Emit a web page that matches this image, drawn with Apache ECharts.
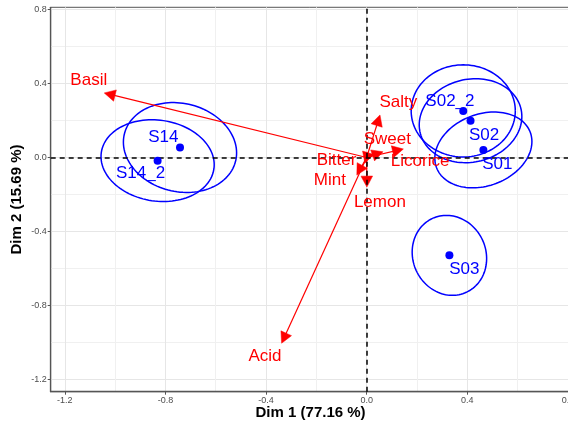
<!DOCTYPE html>
<html>
<head>
<meta charset="utf-8">
<script src="https://cdn.jsdelivr.net/npm/echarts@6/dist/echarts.min.js"></script>
<style>
html,body{margin:0;padding:0;background:#fff;}
#chart{width:568px;height:425px;}
</style>
</head>
<body>
<div id="chart"></div>
<script>
// ---- data ----
const xMajorTicks = [-1.2, -0.8, -0.4, 0.0, 0.4, 0.8];
const xMinorTicks = [-1.0, -0.6, -0.2, 0.2, 0.6];
const yMajorTicks = [-1.2, -0.8, -0.4, 0.0, 0.4, 0.8];
const yMinorTicks = [-1.0, -0.6, -0.2, 0.2, 0.6];

const sampleNames = ['S01', 'S02', 'S02_2', 'S03', 'S14', 'S14_2'];
const sampleDim1 = [0.464, 0.413, 0.384, 0.329, -0.742, -0.831];
const sampleDim2 = [0.041, 0.199, 0.252, -0.529, 0.054, -0.017];
// confidence ellipses: half-extent on Dim 1, half-extent on Dim 2, correlation
const ellipseHalfDim1 = [0.193, 0.204, 0.207, 0.148, 0.225, 0.225];
const ellipseHalfDim2 = [0.205, 0.227, 0.249, 0.216, 0.243, 0.221];
const ellipseCorr = [0.22, 0.10, 0.0, -0.08, -0.12, -0.10];

const varNames = ['Basil', 'Acid', 'Salty', 'Sweet', 'Licorice', 'Bitter', 'Mint', 'Lemon'];
const varDim1 = [-1.043, -0.338, 0.053, 0.065, 0.146, -0.007, -0.039, 0.001];
const varDim2 = [0.349, -1.004, 0.230, 0.031, 0.046, -0.031, -0.095, -0.160];

const xTitle = 'Dim 1 (77.16 %)';
const yTitle = 'Dim 2 (15.69 %)';

// ---- style (label pixel offsets) ----
const sampleLabelOffset = {
  'S01': [14, 14], 'S02': [13.6, 15], 'S02_2': [-13.3, -10], 'S03': [15, 14],
  'S14': [-16.7, -10.4], 'S14_2': [-17, 12.6]
};
const varLabelOffset = {
  'Basil': [-15.5, -13], 'Acid': [-16.7, 13.4], 'Salty': [18.3, -12.3], 'Sweet': [4.3, -12.7],
  'Licorice': [16.7, 12.7], 'Bitter': [-28.3, -3.3], 'Mint': [-27, 5], 'Lemon': [13, 15.7]
};

const FONT = 'Liberation Sans, Arial, sans-serif';
const BLUE = '#0000ff';
const RED = '#ff0000';

const chart = echarts.init(document.getElementById('chart'), null, {renderer: 'canvas'});

const fmt = v => (Math.abs(v) < 1e-9 ? 0 : v).toFixed(1);

function majorAxis(name, min, max, ticks, gap) {
  return {
    type: 'value', min: min, max: max, gridIndex: 0,
    name: name, nameLocation: 'middle', nameGap: gap, nameMoveOverlap: false,
    nameTextStyle: {fontFamily: FONT, fontSize: 15, fontWeight: 'bold', color: '#000'},
    axisLine: {show: true, onZero: false, lineStyle: {color: '#555', width: 1.3}},
    axisTick: {show: true, length: 3, customValues: ticks, lineStyle: {color: '#555', width: 1}},
    axisLabel: {show: true, customValues: ticks, formatter: fmt, fontFamily: FONT, fontSize: 9, color: '#4d4d4d', margin: 4},
    splitLine: {show: true, lineStyle: {color: '#e6e6e6', width: 1}}
  };
}
function minorAxis(min, max, ticks) {
  return {
    type: 'value', min: min, max: max, gridIndex: 0,
    axisLine: {show: false, onZero: false},
    axisTick: {show: false, customValues: ticks},
    axisLabel: {show: false, customValues: ticks},
    splitLine: {show: true, lineStyle: {color: '#f0f0f0', width: 1}}
  };
}

const X_MIN = -1.256, X_MAX = 0.81, Y_MIN = -1.266, Y_MAX = 0.812;

const ellipseData = sampleNames.map((n, i) => [sampleDim1[i], sampleDim2[i], ellipseHalfDim1[i], ellipseHalfDim2[i], ellipseCorr[i]]);
const sampleData = sampleNames.map((n, i) => ({
  name: n, value: [sampleDim1[i], sampleDim2[i]],
  label: {offset: sampleLabelOffset[n]}
}));
const arrowData = varNames.map((n, i) => [varDim1[i], varDim2[i]]);
const varLabelData = varNames.map((n, i) => ({
  name: n, value: [varDim1[i], varDim2[i]],
  label: {offset: varLabelOffset[n]}
}));

chart.setOption({
  animation: false,
  backgroundColor: '#fff',
  grid: {left: 50.7, top: 7.3, right: -2.4, bottom: 33.3, containLabel: false, outerBoundsMode: 'none',
    show: true, borderColor: '#555', borderWidth: 1, backgroundColor: 'transparent'},
  xAxis: [majorAxis(xTitle, X_MIN, X_MAX, xMajorTicks, 14), minorAxis(X_MIN, X_MAX, xMinorTicks)],
  yAxis: [majorAxis(yTitle, Y_MIN, Y_MAX, yMajorTicks, 26), minorAxis(Y_MIN, Y_MAX, yMinorTicks)],
  series: [
    {
      type: 'custom', name: 'ellipses', xAxisIndex: 0, yAxisIndex: 0,
      encode: {x: 0, y: 1},
      data: ellipseData,
      z: 3,
      renderItem: function (params, api) {
        const cx = api.value(0), cy = api.value(1), sx = api.value(2), sy = api.value(3), r = api.value(4);
        const q = Math.sqrt(1 - r * r);
        const pts = [];
        for (let k = 0; k <= 120; k++) {
          const t = 2 * Math.PI * k / 120;
          pts.push(api.coord([cx + sx * Math.cos(t), cy + sy * (r * Math.cos(t) + q * Math.sin(t))]));
        }
        return {type: 'polyline', shape: {points: pts}, style: {stroke: BLUE, lineWidth: 1.5, fill: null}};
      },
      markLine: {
        silent: true, symbol: ['none', 'none'], label: {show: false},
        lineStyle: {color: '#000', type: [5, 4], width: 1.5, opacity: 1},
        data: [{xAxis: 0}, {yAxis: 0}]
      }
    },
    {
      type: 'custom', name: 'arrows', xAxisIndex: 0, yAxisIndex: 0,
      encode: {x: 0, y: 1},
      data: arrowData,
      z: 4,
      renderItem: function (params, api) {
        const p0 = api.coord([0, 0]);
        const p1 = api.coord([api.value(0), api.value(1)]);
        let dx = p1[0] - p0[0], dy = p1[1] - p0[1];
        const len = Math.sqrt(dx * dx + dy * dy) || 1;
        const ux = dx / len, uy = dy / len;
        const L = 11, W = 5.8;
        const bx = p1[0] - ux * L, by = p1[1] - uy * L;
        const nx = -uy, ny = ux;
        return {
          type: 'group',
          children: [
            {type: 'line', shape: {x1: p0[0], y1: p0[1], x2: p1[0] - ux * 4, y2: p1[1] - uy * 4}, style: {stroke: RED, lineWidth: 1.2}},
            {type: 'polygon', shape: {points: [[p1[0], p1[1]], [bx + nx * W, by + ny * W], [bx - nx * W, by - ny * W]]}, style: {fill: RED, stroke: RED, lineWidth: 0.5}}
          ]
        };
      }
    },
    {
      type: 'scatter', name: 'variables', xAxisIndex: 0, yAxisIndex: 0,
      data: varLabelData, symbolSize: 1, z: 5,
      itemStyle: {color: 'rgba(0,0,0,0)', opacity: 1},
      label: {show: true, position: 'inside', formatter: '{b}', color: RED, opacity: 1, fontFamily: FONT, fontSize: 17},
      emphasis: {disabled: true}
    },
    {
      type: 'scatter', name: 'samples', xAxisIndex: 0, yAxisIndex: 0,
      data: sampleData, symbolSize: 8, z: 6,
      itemStyle: {color: BLUE, opacity: 1},
      label: {show: true, position: 'inside', formatter: '{b}', color: BLUE, fontFamily: FONT, fontSize: 17},
      emphasis: {disabled: true}
    }
  ]
});
</script>
</body>
</html>
